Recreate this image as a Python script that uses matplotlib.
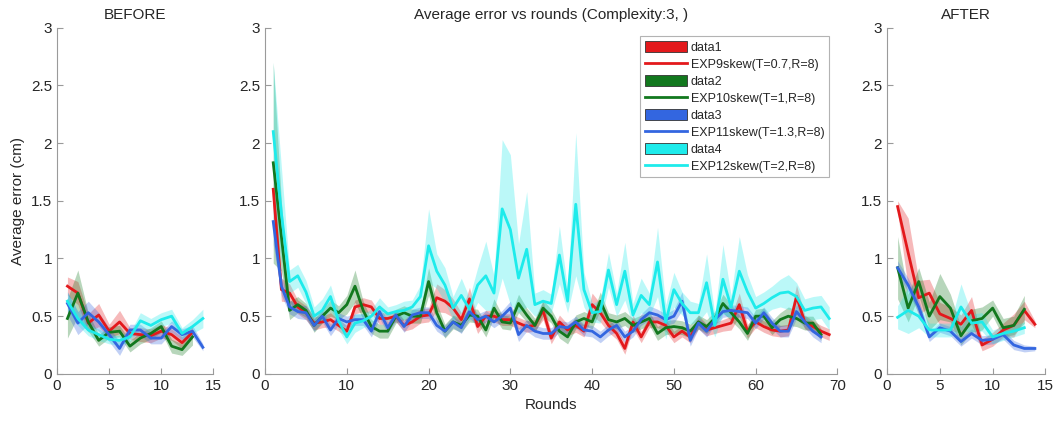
import numpy as np
import matplotlib
matplotlib.use("Agg")
import matplotlib.pyplot as plt
from matplotlib.patches import Patch
from matplotlib.lines import Line2D
from matplotlib.ticker import FuncFormatter

plt.rcParams["font.family"] = ["Liberation Sans", "DejaVu Sans"]

# --------------------------------------------------------
# Data
# --------------------------------------------------------

labels = ["EXP9skew(T=0.7,R=8)", "EXP10skew(T=1,R=8)",
          "EXP11skew(T=1.3,R=8)", "EXP12skew(T=2,R=8)"]
colors = ["#e3191c", "#12781e", "#3366e0", "#1eebeb"]

# BEFORE
before_red = [0.76, 0.70, 0.44, 0.51, 0.37, 0.45, 0.35, 0.34, 0.33, 0.37, 0.34, 0.27, 0.36]
before_red_hw = [0.08, 0.1, 0.08, 0.1, 0.06, 0.1, 0.05, 0.06, 0.06, 0.06, 0.05, 0.05, 0.05]
before_green = [0.48, 0.70, 0.45, 0.29, 0.36, 0.37, 0.24, 0.31, 0.35, 0.41, 0.24, 0.21, 0.32]
before_green_hw = [0.17, 0.2, 0.08, 0.05, 0.05, 0.05, 0.05, 0.05, 0.05, 0.05, 0.06, 0.05, 0.07]
before_blue = [0.61, 0.44, 0.53, 0.45, 0.34, 0.22, 0.38, 0.38, 0.31, 0.31, 0.41, 0.34, 0.37, 0.23]
before_blue_hw = [0.1, 0.1, 0.1, 0.08, 0.06, 0.06, 0.05, 0.05, 0.05, 0.05, 0.05, 0.05, 0.05, 0.03]
before_cyan = [0.63, 0.48, 0.38, 0.34, 0.30, 0.29, 0.32, 0.46, 0.42, 0.47, 0.50, 0.35, 0.41, 0.48]
before_cyan_hw = [0.08, 0.06, 0.05, 0.05, 0.04, 0.04, 0.04, 0.07, 0.06, 0.06, 0.06, 0.05, 0.06, 0.08]

# ROUNDS (middle)
mid_red = [1.60, 0.73, 0.70, 0.58, 0.53, 0.44, 0.45, 0.47, 0.42, 0.37,
           0.58, 0.60, 0.58, 0.48, 0.48, 0.50, 0.42, 0.45, 0.50, 0.51,
           0.66, 0.63, 0.57, 0.47, 0.65, 0.41, 0.50, 0.50, 0.47, 0.47,
           0.44, 0.41, 0.42, 0.55, 0.31, 0.45, 0.38, 0.42, 0.37, 0.60,
           0.53, 0.42, 0.35, 0.22, 0.45, 0.32, 0.45, 0.45, 0.42, 0.32,
           0.37, 0.32, 0.45, 0.38, 0.40, 0.42, 0.44, 0.60, 0.37, 0.45,
           0.41, 0.38, 0.37, 0.38, 0.67, 0.45, 0.41, 0.37, 0.34]
mid_red_hw = [0.15, 0.10, 0.08, 0.06, 0.06, 0.06, 0.05, 0.06, 0.05, 0.05,
              0.06, 0.06, 0.06, 0.05, 0.05, 0.05, 0.05, 0.06, 0.06, 0.06,
              0.12, 0.10, 0.08, 0.06, 0.10, 0.06, 0.05, 0.05, 0.05, 0.05,
              0.05, 0.05, 0.05, 0.08, 0.05, 0.06, 0.05, 0.06, 0.05, 0.10,
              0.08, 0.06, 0.05, 0.05, 0.06, 0.05, 0.05, 0.05, 0.05, 0.05,
              0.05, 0.05, 0.06, 0.05, 0.05, 0.05, 0.06, 0.10, 0.06, 0.05,
              0.05, 0.05, 0.05, 0.05, 0.10, 0.06, 0.05, 0.05, 0.05]
mid_green = [1.83, 1.19, 0.55, 0.60, 0.55, 0.42, 0.50, 0.57, 0.53, 0.60,
             0.76, 0.55, 0.41, 0.37, 0.37, 0.50, 0.53, 0.50, 0.50, 0.80,
             0.53, 0.37, 0.45, 0.42, 0.51, 0.50, 0.38, 0.57, 0.45, 0.44,
             0.61, 0.51, 0.42, 0.57, 0.50, 0.37, 0.32, 0.45, 0.48, 0.45,
             0.63, 0.47, 0.45, 0.48, 0.42, 0.45, 0.48, 0.35, 0.40, 0.41,
             0.40, 0.37, 0.45, 0.41, 0.48, 0.61, 0.53, 0.45, 0.35, 0.50,
             0.50, 0.40, 0.47, 0.50, 0.48, 0.44, 0.44, 0.34]
mid_green_hw = [0.87, 0.30, 0.08, 0.07, 0.06, 0.06, 0.06, 0.07, 0.06, 0.08,
                0.14, 0.08, 0.06, 0.06, 0.06, 0.06, 0.06, 0.06, 0.06, 0.12,
                0.08, 0.06, 0.06, 0.06, 0.06, 0.06, 0.06, 0.08, 0.06, 0.06,
                0.08, 0.06, 0.06, 0.07, 0.06, 0.06, 0.06, 0.06, 0.06, 0.06,
                0.08, 0.06, 0.06, 0.06, 0.06, 0.06, 0.06, 0.06, 0.06, 0.06,
                0.06, 0.06, 0.06, 0.06, 0.06, 0.08, 0.07, 0.06, 0.06, 0.06,
                0.07, 0.06, 0.06, 0.08, 0.07, 0.06, 0.06, 0.05]
mid_blue = [1.32, 0.76, 0.58, 0.54, 0.53, 0.42, 0.50, 0.38, 0.48, 0.45,
            0.47, 0.47, 0.37, 0.54, 0.40, 0.51, 0.41, 0.51, 0.53, 0.53,
            0.42, 0.37, 0.45, 0.40, 0.54, 0.47, 0.50, 0.45, 0.50, 0.57,
            0.34, 0.42, 0.37, 0.35, 0.35, 0.41, 0.40, 0.45, 0.38, 0.37,
            0.32, 0.38, 0.42, 0.32, 0.37, 0.47, 0.53, 0.51, 0.47, 0.50,
            0.63, 0.29, 0.44, 0.37, 0.47, 0.54, 0.55, 0.54, 0.53, 0.44,
            0.53, 0.44, 0.37, 0.37, 0.54, 0.45, 0.37, 0.32]
mid_blue_hw = [0.20, 0.08, 0.06, 0.06, 0.06, 0.05, 0.05, 0.05, 0.05, 0.05,
               0.05, 0.05, 0.05, 0.06, 0.05, 0.05, 0.05, 0.05, 0.05, 0.05,
               0.05, 0.05, 0.05, 0.05, 0.06, 0.05, 0.05, 0.05, 0.05, 0.06,
               0.06, 0.05, 0.05, 0.05, 0.05, 0.05, 0.05, 0.05, 0.05, 0.05,
               0.05, 0.05, 0.05, 0.05, 0.05, 0.05, 0.06, 0.05, 0.05, 0.06,
               0.08, 0.05, 0.05, 0.05, 0.05, 0.05, 0.05, 0.05, 0.05, 0.05,
               0.05, 0.05, 0.05, 0.05, 0.06, 0.05, 0.05, 0.05]
mid_cyan = [2.10, 1.39, 0.80, 0.85, 0.71, 0.50, 0.55, 0.67, 0.46, 0.32,
            0.44, 0.46, 0.50, 0.58, 0.52, 0.54, 0.55, 0.58, 0.67, 1.11,
            0.89, 0.77, 0.57, 0.68, 0.56, 0.77, 0.85, 0.70, 1.43, 1.25,
            0.83, 1.08, 0.60, 0.63, 0.61, 1.03, 0.63, 1.47, 0.73, 0.53,
            0.54, 0.90, 0.60, 0.89, 0.51, 0.68, 0.60, 0.97, 0.45, 0.73,
            0.61, 0.53, 0.53, 0.79, 0.42, 0.82, 0.58, 0.89, 0.71, 0.57,
            0.61, 0.66, 0.70, 0.71, 0.67, 0.55, 0.57, 0.58, 0.48]
mid_cyan_hw = [0.60, 0.40, 0.10, 0.10, 0.10, 0.08, 0.10, 0.10, 0.08, 0.06,
               0.08, 0.06, 0.06, 0.08, 0.06, 0.06, 0.08, 0.06, 0.10, 0.32,
               0.15, 0.15, 0.10, 0.15, 0.10, 0.15, 0.30, 0.15, 0.60, 0.65,
               0.30, 0.50, 0.10, 0.10, 0.08, 0.25, 0.10, 0.62, 0.15, 0.08,
               0.10, 0.15, 0.10, 0.25, 0.10, 0.15, 0.10, 0.30, 0.15, 0.15,
               0.10, 0.10, 0.08, 0.25, 0.10, 0.30, 0.10, 0.30, 0.15, 0.10,
               0.10, 0.10, 0.12, 0.15, 0.12, 0.10, 0.10, 0.10, 0.10]

# AFTER
after_red = [1.45, 1.05, 0.66, 0.70, 0.52, 0.48, 0.43, 0.55, 0.25, 0.30, 0.38, 0.42, 0.55, 0.43]
after_red_hw = [0.05, 0.3, 0.15, 0.12, 0.1, 0.1, 0.08, 0.12, 0.05, 0.06, 0.06, 0.1, 0.08, 0.03]
after_green = [0.92, 0.57, 0.80, 0.50, 0.67, 0.57, 0.33, 0.46, 0.48, 0.57, 0.40, 0.42, 0.56]
after_green_hw = [0.27, 0.12, 0.12, 0.12, 0.2, 0.12, 0.08, 0.1, 0.1, 0.07, 0.08, 0.08, 0.12]
after_blue = [0.92, 0.77, 0.58, 0.32, 0.40, 0.37, 0.28, 0.35, 0.29, 0.30, 0.34, 0.25, 0.22, 0.22]
after_blue_hw = [0.06, 0.06, 0.06, 0.04, 0.04, 0.04, 0.04, 0.04, 0.04, 0.04, 0.04, 0.04, 0.03, 0.02]
after_cyan = [0.49, 0.55, 0.50, 0.38, 0.38, 0.38, 0.58, 0.44, 0.45, 0.32, 0.35, 0.37, 0.40]
after_cyan_hw = [0.1, 0.2, 0.1, 0.06, 0.06, 0.06, 0.2, 0.08, 0.08, 0.06, 0.06, 0.05, 0.05]

# --------------------------------------------------------
# Plot
# --------------------------------------------------------

TEXT = "#262626"
SPINE = "#9a9a9a"

fig = plt.figure(figsize=(10.56, 4.21), dpi=100)
ax_b = fig.add_axes([0.054, 0.112, 0.148, 0.822])
ax_m = fig.add_axes([0.251, 0.112, 0.542, 0.822])
ax_a = fig.add_axes([0.840, 0.112, 0.150, 0.822])


def draw(ax, series):
    for (mean, hw), c in zip(series, colors):
        mean = np.array(mean)
        hw = np.array(hw)
        x = np.arange(1, len(mean) + 1)
        ax.fill_between(x, mean - hw, mean + hw, color=c, alpha=0.3,
                        linewidth=0)
    for (mean, hw), c in zip(series, colors):
        x = np.arange(1, len(mean) + 1)
        ax.plot(x, mean, color=c, lw=2.0)


def style(ax, xmax, xstep):
    ax.set_ylim(0, 3)
    ax.set_xlim(0, xmax)
    ax.set_yticks(np.arange(0, 3.01, 0.5))
    ax.set_xticks(np.arange(0, xmax + 0.1, xstep))
    ax.yaxis.set_major_formatter(FuncFormatter(lambda v, p: f"{v:g}"))
    for s in ["top", "right"]:
        ax.spines[s].set_visible(False)
    for s in ["left", "bottom"]:
        ax.spines[s].set_color(SPINE)
        ax.spines[s].set_linewidth(0.8)
    ax.tick_params(direction="in", length=4, width=0.8, color=SPINE,
                   labelcolor=TEXT, labelsize=11)


draw(ax_b, [(before_red, before_red_hw), (before_green, before_green_hw),
            (before_blue, before_blue_hw), (before_cyan, before_cyan_hw)])
draw(ax_m, [(mid_red, mid_red_hw), (mid_green, mid_green_hw),
            (mid_blue, mid_blue_hw), (mid_cyan, mid_cyan_hw)])
draw(ax_a, [(after_red, after_red_hw), (after_green, after_green_hw),
            (after_blue, after_blue_hw), (after_cyan, after_cyan_hw)])

style(ax_b, 15, 5)
style(ax_m, 70, 10)
style(ax_a, 15, 5)

ax_b.set_title("BEFORE", color=TEXT, fontsize=11)
ax_m.set_title("Average error vs rounds (Complexity:3, )", color=TEXT,
               fontsize=11)
ax_a.set_title("AFTER", color=TEXT, fontsize=11)
ax_b.set_ylabel("Average error (cm)", color=TEXT, fontsize=11)
ax_m.set_xlabel("Rounds", color=TEXT, fontsize=11)

handles = []
names = []
for i, (c, lab) in enumerate(zip(colors, labels)):
    handles.append(Patch(facecolor=c, edgecolor="#333333", linewidth=0.6))
    names.append(f"data{i + 1}")
    handles.append(Line2D([], [], color=c, lw=2.0))
    names.append(lab)

leg = ax_m.legend(handles, names, loc="upper right",
                  bbox_to_anchor=(0.985, 0.975), fontsize=9,
                  frameon=True, fancybox=False, handlelength=3.4,
                  handleheight=1.0, labelspacing=0.33, handletextpad=0.3,
                  borderpad=0.35, borderaxespad=0)
leg.get_frame().set_edgecolor("#a0a0a0")
leg.get_frame().set_linewidth(0.8)
for t in leg.get_texts():
    t.set_color(TEXT)

fig.savefig("out.png", dpi=100)
